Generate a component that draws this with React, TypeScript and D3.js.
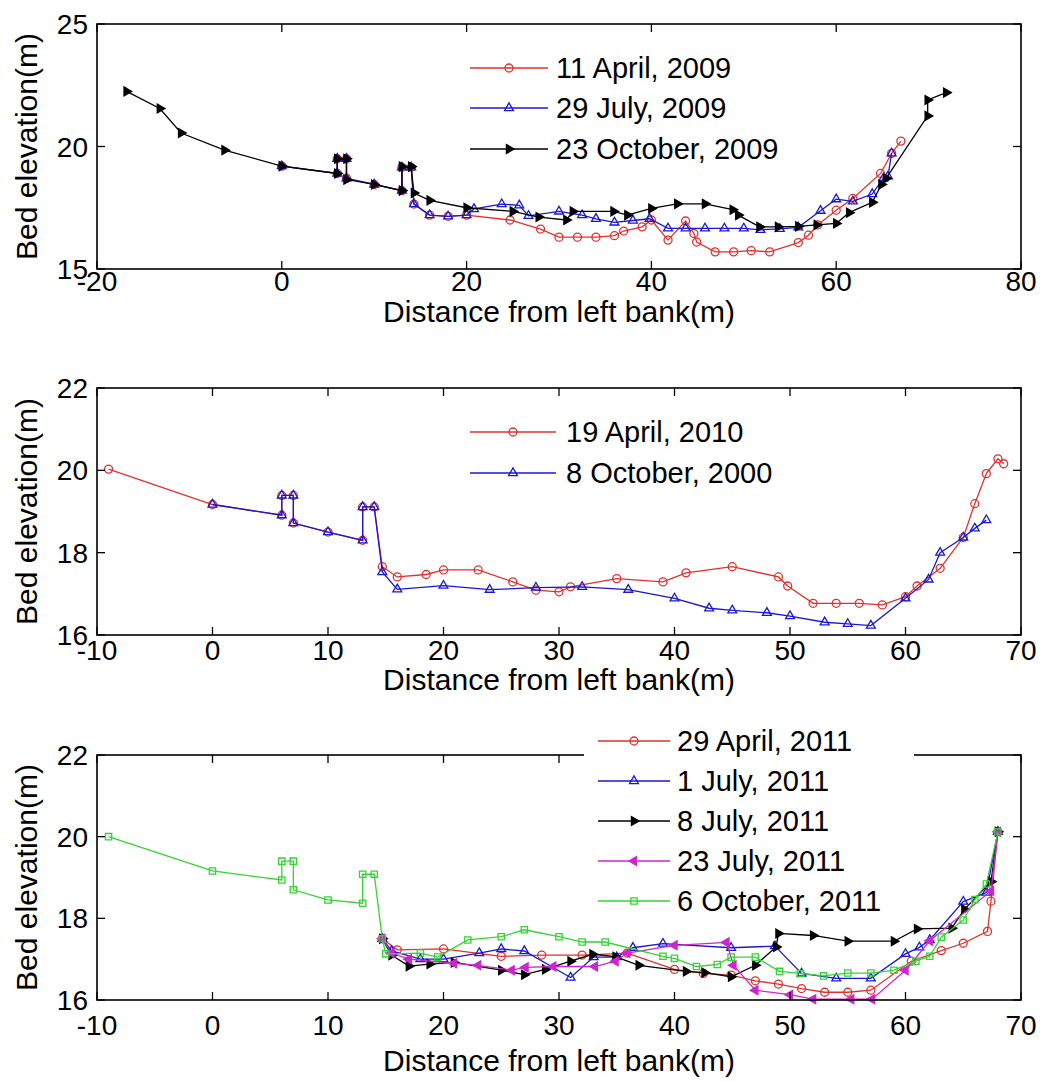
import React from 'react';
import * as d3 from 'd3';

type Pt = [number, number];

// ---------- Panel 1 (2009) ----------
const apr2009: Pt[] = [
  [0, 19.2], [6, 18.9], [6, 19.5], [7, 19.5], [7, 18.7], [10, 18.45], [13, 18.2], [13, 19.15], [14, 19.15],
  [14.3, 17.65], [16, 17.2], [18, 17.15], [20, 17.2], [24.7, 17.0], [28, 16.63], [30, 16.3], [32, 16.3],
  [34, 16.3], [36, 16.36], [37, 16.55], [39, 16.72], [40, 17.0], [41.8, 16.18], [43.7, 16.96], [44.6, 16.45],
  [44.9, 16.1], [46.9, 15.7], [48.9, 15.7], [50.8, 15.75], [52.8, 15.7], [55.9, 16.08], [57, 16.38],
  [58, 16.8], [60, 17.4], [61.8, 17.88], [64.8, 18.9], [66, 19.72], [67, 20.22],
];
const jul2009: Pt[] = [
  [0, 19.2], [6, 18.9], [6, 19.5], [7, 19.5], [7, 18.7], [10, 18.45], [13, 18.2], [13, 19.15], [14, 19.15],
  [14.3, 17.65], [16, 17.2], [18, 17.15], [20, 17.2], [20.8, 17.45], [23.8, 17.65], [25.7, 17.6], [26.7, 17.17],
  [30, 17.35], [32.5, 17.2], [34, 17.05], [36, 16.9], [38, 16.98], [39.8, 17.05], [41.8, 16.66], [43.7, 16.66],
  [45.8, 16.66], [47.9, 16.66], [50, 16.66], [51.8, 16.6], [53.9, 16.64], [55.9, 16.7], [58.3, 17.38],
  [60, 17.85], [61.8, 17.76], [63.9, 18.06], [65.1, 18.7], [65.6, 18.78], [66, 19.72],
];
const oct2009: Pt[] = [
  [-16.8, 22.25], [-13.2, 21.55], [-10.9, 20.55], [-6.2, 19.85], [0, 19.2], [6, 18.9], [6, 19.5], [7, 19.5],
  [7, 18.65], [10, 18.45], [13, 18.2], [13, 19.18], [14, 19.18], [14.3, 18.1], [16, 17.8], [20, 17.5],
  [25, 17.35], [27.8, 17.12], [30.8, 17.0], [31.5, 17.35], [35.9, 17.35], [37.4, 17.2], [40, 17.47],
  [42.8, 17.66], [45.8, 17.66], [48.8, 17.42], [49.4, 17.2], [51.7, 16.72], [53.7, 16.72], [55.9, 16.74],
  [57.9, 16.8], [60, 16.86], [61.4, 17.3], [63.9, 17.72], [64.9, 18.45], [65.4, 18.7], [69.9, 21.25],
  [69.9, 21.9], [71.9, 22.2],
];

// ---------- Panel 2 (2010 / 2000) ----------
const apr2010: Pt[] = [
  [-9, 20.03], [0, 19.17], [6, 18.91], [6, 19.39], [7, 19.39], [7, 18.72], [10, 18.5], [13, 18.3], [13, 19.11],
  [14, 19.11], [14.7, 17.66], [16, 17.41], [18.5, 17.47], [20, 17.58], [23, 17.58], [26, 17.29], [28, 17.09],
  [30, 17.05], [31, 17.17], [35, 17.37], [39, 17.29], [41, 17.51], [45, 17.66], [49, 17.41], [49.8, 17.19],
  [52, 16.77], [54, 16.77], [56, 16.77], [58, 16.73], [60, 16.93], [61, 17.19], [63, 17.62], [65, 18.37],
  [66, 19.19], [67, 19.92], [68, 20.28], [68.5, 20.16],
];
const oct2000: Pt[] = [
  [0, 19.17], [6, 18.91], [6, 19.39], [7, 19.39], [7, 18.72], [10, 18.5], [13, 18.3], [13, 19.11], [14, 19.11],
  [14.7, 17.53], [16, 17.11], [20, 17.2], [24, 17.1], [28, 17.15], [32, 17.17], [36, 17.1], [40, 16.89],
  [43, 16.65], [45, 16.6], [48, 16.54], [50, 16.46], [53, 16.31], [55, 16.27], [57, 16.23], [60, 16.89],
  [62, 17.35], [63, 18.0], [65, 18.37], [66, 18.59], [67, 18.79],
];

// ---------- Panel 3 (2011) ----------
const apr2011: Pt[] = [
  [14.7, 17.5], [16, 17.23], [20, 17.25], [25, 17.07], [28.5, 17.1], [32, 17.1], [35.9, 17.15], [40, 16.75],
  [42.5, 16.65], [44.9, 16.61], [47, 16.47], [49, 16.39], [51, 16.28], [53, 16.19], [55, 16.19], [57, 16.24],
  [60.5, 16.95], [63.1, 17.21], [65, 17.39], [67.1, 17.68], [67.4, 18.42], [68, 20.12],
];
const jul1_2011: Pt[] = [
  [14.7, 17.5], [15.5, 17.2], [18, 17.0], [20, 17.0], [23.1, 17.15], [25, 17.25], [27, 17.2], [31, 16.55],
  [33, 17.05], [35, 17.05], [36.4, 17.28], [39, 17.38], [44.9, 17.28], [48.7, 17.32], [51, 16.65], [54, 16.53],
  [57, 16.53], [60, 17.13], [61.2, 17.29], [62.1, 17.47], [65, 18.41], [67, 18.63], [68, 20.12],
];
const jul8_2011: Pt[] = [
  [14.7, 17.5], [15.5, 17.1], [17, 16.83], [18.8, 16.88], [20.9, 16.92], [25, 16.73], [27, 16.62], [28.8, 16.75],
  [31, 16.95], [32.9, 17.12], [34.9, 17.06], [36.9, 16.85], [41, 16.7], [42.6, 16.67], [44.9, 16.57], [47, 16.85],
  [48.8, 17.3], [49, 17.63], [52, 17.58], [55, 17.44], [59, 17.44], [61, 17.74], [64, 17.76], [65.1, 18.22],
  [67.4, 18.9], [68, 20.12],
];
const jul23_2011: Pt[] = [
  [14.7, 17.5], [15.5, 17.15], [17, 17.0], [20.9, 16.9], [23, 16.85], [25.9, 16.73], [27.1, 16.8], [29.5, 16.82],
  [33.1, 16.82], [34.9, 16.95], [35.9, 17.15], [40, 17.34], [44.5, 17.41], [45.1, 16.85], [47, 16.24], [50, 16.13],
  [52, 16.02], [55.3, 16.02], [57.1, 16.02], [60, 16.73], [62.1, 17.45], [67.4, 18.67], [68, 20.12],
];
const oct2011: Pt[] = [
  [-9, 20.0], [0, 19.16], [6, 18.94], [6, 19.4], [7, 19.4], [7, 18.7], [10, 18.45], [13, 18.37], [13, 19.08],
  [14, 19.08], [14.7, 17.5], [15, 17.13], [18, 17.15], [19.5, 17.05], [22.1, 17.47], [25, 17.55], [27, 17.72],
  [30, 17.55], [32, 17.42], [34, 17.42], [39, 17.07], [40, 17.02], [41.9, 16.82], [43.7, 16.87], [44.9, 17.05],
  [47, 17.05], [49.1, 16.7], [50.9, 16.65], [52.9, 16.59], [55, 16.66], [57, 16.66], [59, 16.73], [60.9, 16.95],
  [62.1, 17.07], [63.1, 17.54], [65, 17.96], [66, 18.46], [67, 18.84], [68, 20.12],
];

// ---------- Ticks & labels ----------
const xTicks1 = [-20, 0, 20, 40, 60, 80];
const yTicks1 = [15, 20, 25];
const xTicks23 = [-10, 0, 10, 20, 30, 40, 50, 60, 70];
const yTicks23 = [16, 18, 20, 22];
const legend1 = ['11 April, 2009', '29 July, 2009', '23 October, 2009'];
const legend2 = ['19 April, 2010', '8 October, 2000'];
const legend3 = ['29 April, 2011', '1 July, 2011', '8 July, 2011', '23 July, 2011', '6 October, 2011'];
const xLabel = 'Distance from left bank(m)';
const yLabel = 'Bed elevation(m)';

type Kind = 'o' | '^' | '>' | '<' | 's';
const RED = '#e2302c';
const BLUE = '#1818d0';
const BLACK = '#000000';
const MAGENTA = '#d024d0';
const GREEN = '#33d433';

interface Series { data: Pt[]; color: string; kind: Kind; label: string }

const L = 97;
const R = 1021;
const FONT = 'Liberation Sans, Arial, Helvetica, sans-serif';

function Marker({ kind, color, cx, cy }: { kind: Kind; color: string; cx: number; cy: number }) {
  if (kind === 'o') {
    return <circle cx={cx} cy={cy} r={4} fill="none" stroke={color} strokeWidth={1.3} />;
  }
  if (kind === 's') {
    const d = d3.symbol().type(d3.symbolSquare).size(40)()!;
    return <path d={d} transform={`translate(${cx},${cy})`} fill="none" stroke={color} strokeWidth={1.3} />;
  }
  const d = d3.symbol().type(d3.symbolTriangle).size(34)()!;
  const rot = kind === '^' ? 0 : kind === '>' ? 90 : -90;
  const filled = kind === '>' || kind === '<';
  return (
    <path
      d={d}
      transform={`translate(${cx},${cy}) rotate(${rot})`}
      fill={filled ? color : 'none'}
      stroke={color}
      strokeWidth={1.3}
    />
  );
}

interface PanelProps {
  top: number;
  bottom: number;
  xDomain: [number, number];
  yDomain: [number, number];
  xTicks: number[];
  yTicks: number[];
  series: Series[];
  legendBox: { x: number; y: number; w: number; h: number };
  legendLine: [number, number];
  legendText: number;
  legendRows: number[];
  tickBase: number;
  labelBase: number;
}

function Panel(p: PanelProps) {
  const x = d3.scaleLinear().domain(p.xDomain).range([L, R]);
  const y = d3.scaleLinear().domain(p.yDomain).range([p.bottom, p.top]);
  const line = d3.line<Pt>().x((d) => x(d[0])).y((d) => y(d[1]));
  const tl = 8;
  const midY = (p.top + p.bottom) / 2;
  const lm = (p.legendLine[0] + p.legendLine[1]) / 2;
  return (
    <g>
      {p.series.map((s, i) => (
        <g key={i}>
          <path d={line(s.data)!} fill="none" stroke={s.color} strokeWidth={1.3} />
          {s.data.map((d, j) => (
            <Marker key={j} kind={s.kind} color={s.color} cx={x(d[0])} cy={y(d[1])} />
          ))}
        </g>
      ))}
      <rect x={L} y={p.top} width={R - L} height={p.bottom - p.top} fill="none" stroke="#000" strokeWidth={1.6} />
      {p.xTicks.map((t) => (
        <g key={'x' + t}>
          <line x1={x(t)} x2={x(t)} y1={p.bottom} y2={p.bottom - tl} stroke="#000" strokeWidth={1.3} />
          <line x1={x(t)} x2={x(t)} y1={p.top} y2={p.top + tl} stroke="#000" strokeWidth={1.3} />
          <text x={x(t)} y={p.tickBase} textAnchor="middle" fontSize={28} fontFamily={FONT} fill="#000">
            {t}
          </text>
        </g>
      ))}
      {p.yTicks.map((t) => (
        <g key={'y' + t}>
          <line x1={L} x2={L + tl} y1={y(t)} y2={y(t)} stroke="#000" strokeWidth={1.3} />
          <line x1={R} x2={R - tl} y1={y(t)} y2={y(t)} stroke="#000" strokeWidth={1.3} />
          <text x={L - 9} y={y(t)} dy="0.36em" textAnchor="end" fontSize={28} fontFamily={FONT} fill="#000">
            {t}
          </text>
        </g>
      ))}
      <text x={(L + R) / 2} y={p.labelBase} textAnchor="middle" fontSize={30} fontFamily={FONT} fill="#000">
        {xLabel}
      </text>
      <text
        transform={`translate(37,${midY}) rotate(-90)`}
        textAnchor="middle"
        fontSize={30}
        fontFamily={FONT}
        fill="#000"
      >
        {yLabel}
      </text>
      <rect x={p.legendBox.x} y={p.legendBox.y} width={p.legendBox.w} height={p.legendBox.h} fill="#fff" />
      {p.series.map((s, i) => (
        <g key={'lg' + i}>
          <line x1={p.legendLine[0]} x2={p.legendLine[1]} y1={p.legendRows[i]} y2={p.legendRows[i]} stroke={s.color} strokeWidth={1.3} />
          <Marker kind={s.kind} color={s.color} cx={lm} cy={p.legendRows[i]} />
          <text x={p.legendText} y={p.legendRows[i]} dy="0.36em" fontSize={29} fontFamily={FONT} fill="#000">
            {s.label}
          </text>
        </g>
      ))}
    </g>
  );
}

export default function App() {
  const s1: Series[] = [
    { data: apr2009, color: RED, kind: 'o', label: legend1[0] },
    { data: jul2009, color: BLUE, kind: '^', label: legend1[1] },
    { data: oct2009, color: BLACK, kind: '>', label: legend1[2] },
  ];
  const s2: Series[] = [
    { data: apr2010, color: RED, kind: 'o', label: legend2[0] },
    { data: oct2000, color: BLUE, kind: '^', label: legend2[1] },
  ];
  const s3: Series[] = [
    { data: apr2011, color: RED, kind: 'o', label: legend3[0] },
    { data: jul1_2011, color: BLUE, kind: '^', label: legend3[1] },
    { data: jul8_2011, color: BLACK, kind: '>', label: legend3[2] },
    { data: jul23_2011, color: MAGENTA, kind: '<', label: legend3[3] },
    { data: oct2011, color: GREEN, kind: 's', label: legend3[4] },
  ];
  return (
    <svg
      width={1063}
      height={1082}
      style={{ position: 'absolute', left: 0, top: 0, background: '#fff' }}
      xmlns="http://www.w3.org/2000/svg"
    >
      <rect x={0} y={0} width={1063} height={1082} fill="#fff" />
      <Panel
        top={24}
        bottom={269}
        xDomain={[-20, 80]}
        yDomain={[15, 25]}
        xTicks={xTicks1}
        yTicks={yTicks1}
        series={s1}
        legendBox={{ x: 458, y: 46, w: 342, h: 124 }}
        legendLine={[470, 548]}
        legendText={556}
        legendRows={[68, 108, 149]}
        tickBase={291}
        labelBase={322}
      />
      <Panel
        top={388}
        bottom={635}
        xDomain={[-10, 70]}
        yDomain={[16, 22]}
        xTicks={xTicks23}
        yTicks={yTicks23}
        series={s2}
        legendBox={{ x: 460, y: 410, w: 312, h: 86 }}
        legendLine={[470, 556]}
        legendText={566}
        legendRows={[432, 473]}
        tickBase={660}
        labelBase={690}
      />
      <Panel
        top={755}
        bottom={1000}
        xDomain={[-10, 70]}
        yDomain={[16, 22]}
        xTicks={xTicks23}
        yTicks={yTicks23}
        series={s3}
        legendBox={{ x: 584, y: 720, w: 330, h: 202 }}
        legendLine={[598, 670]}
        legendText={677}
        legendRows={[741, 781, 821, 861, 901]}
        tickBase={1035}
        labelBase={1071}
      />
    </svg>
  );
}
